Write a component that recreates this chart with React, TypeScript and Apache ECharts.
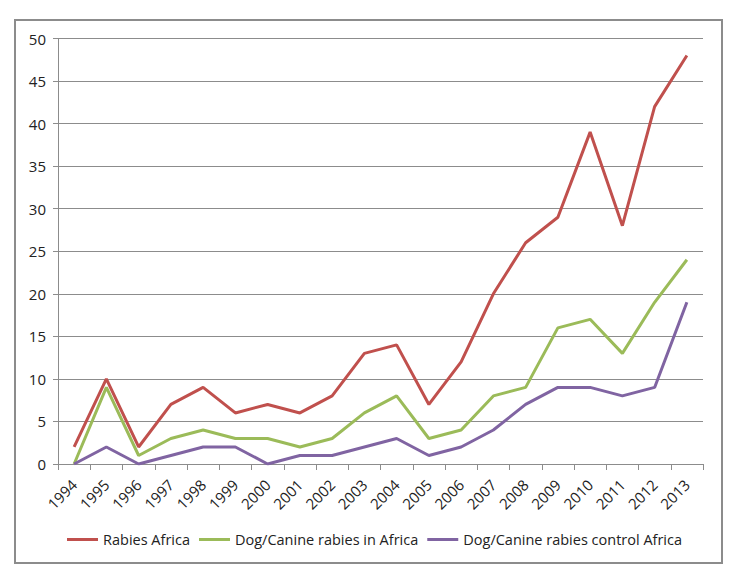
import React, { useEffect, useRef } from "react";
import * as echarts from "echarts";

const years = ["1994","1995","1996","1997","1998","1999","2000","2001","2002","2003","2004","2005","2006","2007","2008","2009","2010","2011","2012","2013"];
const rabiesAfrica = [2,10,2,7,9,6,7,6,8,13,14,7,12,20,26,29,39,28,42,48];
const dogRabiesAfrica = [0,9,1,3,4,3,3,2,3,6,8,3,4,8,9,16,17,13,19,24];
const dogControlAfrica = [0,2,0,1,2,2,0,1,1,2,3,1,2,4,7,9,9,8,9,19];
const seriesNames = ["Rabies Africa","Dog/Canine rabies in Africa","Dog/Canine rabies control Africa"];
const colors = ["#C0504D","#9BBB59","#8064A2"];

export default function App() {
  const ref = useRef<HTMLDivElement>(null);
  useEffect(() => {
    document.body.style.margin = "0";
    const chart = echarts.init(ref.current!, null, { renderer: "svg" });
    const font = "'Open Sans', 'Noto Sans', sans-serif";
    const datasets = [rabiesAfrica, dogRabiesAfrica, dogControlAfrica];
    chart.setOption({
      animation: false,
      textStyle: { fontFamily: font },
      graphic: [
        { type: "rect", shape: { x: 15, y: 20, width: 707, height: 543 }, style: { fill: "none", stroke: "#8c8c8c", lineWidth: 2 }, z: -1 },
      ],
      grid: { left: 58, right: 34, top: 38.5, bottom: 123 },
      legend: {
        top: 527,
        left: 62,
        icon: "rect",
        itemWidth: 31,
        itemHeight: 3,
        itemGap: 9,
        textStyle: { fontSize: 14.5, color: "#222", fontFamily: font },
        data: seriesNames,
      },
      xAxis: {
        type: "category",
        data: years,
        boundaryGap: true,
        axisLine: { lineStyle: { color: "#8c8c8c", width: 1 } },
        axisTick: { show: true, length: 6, lineStyle: { color: "#8c8c8c" } },
        axisLabel: { rotate: 45, fontSize: 15, color: "#222", margin: 18, interval: 0 },
      },
      yAxis: {
        type: "value",
        min: 0,
        max: 50,
        interval: 5,
        axisLine: { show: true, lineStyle: { color: "#8c8c8c" } },
        axisTick: { show: true, length: 5, lineStyle: { color: "#8c8c8c" } },
        splitLine: { lineStyle: { color: "#8c8c8c", width: 1 } },
        axisLabel: { fontSize: 15, color: "#222", margin: 12 },
      },
      series: seriesNames.map((name, i) => ({
        name,
        type: "line",
        data: datasets[i],
        symbol: "none",
        lineStyle: { color: colors[i], width: 3 },
        itemStyle: { color: colors[i] },
      })),
    });
    return () => chart.dispose();
  }, []);
  return <div ref={ref} style={{ position: "fixed", left: 0, top: 0, width: 737, height: 587, background: "#fff" }} />;
}
